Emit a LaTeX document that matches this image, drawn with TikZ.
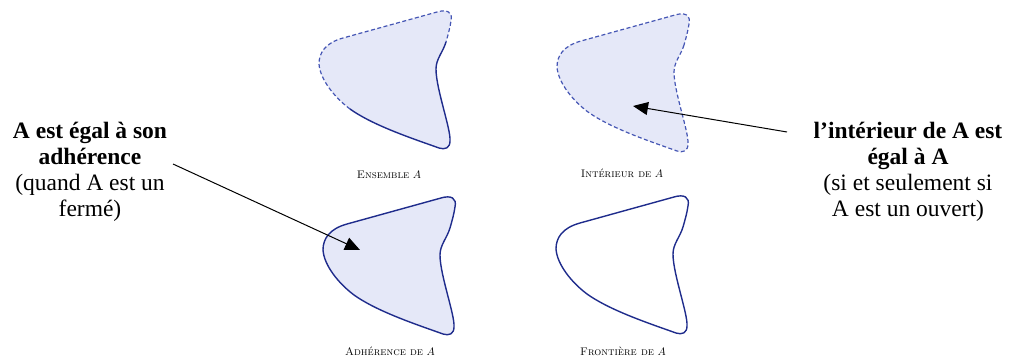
\documentclass[tikz,border=0pt]{standalone}
\usepackage{fontspec}
\newfontfamily\tnr{Liberation Serif}
\usetikzlibrary{arrows.meta}
\definecolor{blobfill}{HTML}{E5E8F8}
\definecolor{blobline}{HTML}{1F2C8C}
\definecolor{blobdash}{HTML}{4556B4}
\newcommand\blobS{.. controls (124,-12) and (117,-5) .. (117,5) .. controls (117,25) and (132,65) .. (131,77) .. controls (131,84) and (126,86) .. (120,84) .. controls (95,75) and (55,62) .. (31,45)}
\newcommand\blobD{.. controls (15,33) and (1,15) .. (0,0) .. controls (0,-11) and (6,-21) .. (24,-26) -- (118,-52) .. controls (128,-55) and (134,-52) .. (132,-43) .. controls (131,-36) and (129,-29) .. (127,-22)}
\tikzset{
  solidedge/.style={draw=blobline, line width=1.4pt},
  dashedge/.style={draw=blobdash, line width=1.2pt, dash pattern=on 4pt off 2.5pt},
  caption/.style={font=\fontsize{11}{13}\selectfont, inner sep=0pt},
  sidetext/.style={font=\tnr\fontsize{23.5}{26}\selectfont, align=center, inner sep=0pt},
  pointer/.style={draw=black, line width=1pt, -{Triangle[length=15pt,width=13pt]}}
}
\begin{document}
\begin{tikzpicture}[x=1pt, y=-1pt]
\useasboundingbox (0,0) rectangle (1013,356);
% Ensemble A
\begin{scope}[shift={(319,64)}]
  \fill[blobfill] (127,-22) \blobS \blobD -- cycle;
  \path[dashedge] (31,45) \blobD;
  \path[solidedge] (127,-22) \blobS;
\end{scope}
% Interieur de A
\begin{scope}[shift={(557,67)}]
  \fill[blobfill] (127,-22) \blobS \blobD -- cycle;
  \path[dashedge] (127,-22) \blobS \blobD -- cycle;
\end{scope}
% Adherence de A
\begin{scope}[shift={(323,250)}]
  \path[fill=blobfill, solidedge] (127,-22) \blobS \blobD -- cycle;
\end{scope}
% Frontiere de A
\begin{scope}[shift={(556,249)}]
  \path[solidedge] (127,-22) \blobS \blobD -- cycle;
\end{scope}
\node[caption] (c1) at (389,175) {\textsc{Ensemble} $A$};
\node[caption] (c2) at (622,173) {\textsc{Intérieur de} $A$};
\node[caption] (c3) at (390,351) {\textsc{Adhérence de} $A$};
\node[caption] (c4) at (623,351) {\textsc{Frontière de} $A$};
\node[sidetext] (left) at (90,172) {\textbf{A est égal à son}\\\textbf{adhérence}\\(quand A est un\\fermé)};
\node[sidetext] (right) at (908,172) {\textbf{l’intérieur de A est}\\\textbf{égal à A}\\(si et seulement si\\A est un ouvert)};
\coordinate (ls) at (173,164);
\coordinate (lt) at (360,250);
\coordinate (rs) at (787,132);
\coordinate (rt) at (633,106);
\draw[pointer] (ls) -- (lt);
\draw[pointer] (rs) -- (rt);
\end{tikzpicture}
\end{document}
